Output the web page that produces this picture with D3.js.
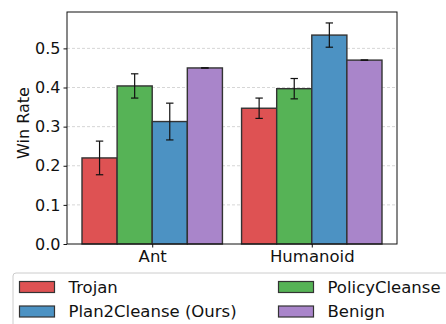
<!DOCTYPE html>
<html>
<head>
<meta charset="utf-8">
<script src="https://cdn.jsdelivr.net/npm/d3@7"></script>
<style>
  html, body { margin: 0; padding: 0; background: #fff; }
  svg { display: block; font-family: "DejaVu Sans", sans-serif; }
</style>
</head>
<body>
<div id="chart"></div>
<script>
// Daten
const categories = ["Ant", "Humanoid"];
const methods = ["Trojan", "PolicyCleanse", "Plan2Cleanse (Ours)", "Benign"];
const colors = ["#de5253", "#56b356", "#4c92c3", "#a985ca"];
const meanValues = [
  [0.220, 0.347],   // Trojan
  [0.404, 0.397],   // PolicyCleanse
  [0.313, 0.534],   // Plan2Cleanse
  [0.450, 0.470]    // Benign
];
const errValues = [
  [0.043, 0.026],
  [0.031, 0.026],
  [0.047, 0.031],
  [0.000, 0.000]
];
const yTicks = [0.0, 0.1, 0.2, 0.3, 0.4, 0.5];
const legendOrder = [[0, 1], [2, 3]]; // Zeilen: [links, rechts]

const W = 446, H = 324;
const BAR_W = 0.22;

const svg = d3.select("#chart").append("svg")
  .attr("width", W).attr("height", H);

const x = d3.scaleLinear().domain([-0.534, 1.534]).range([67, 397]);
const y = d3.scaleLinear().domain([0, 0.593]).range([244, 12]);

// Grid
svg.append("g").selectAll("line")
  .data(yTicks.slice(1))
  .join("line")
  .attr("x1", x.range()[0]).attr("x2", x.range()[1])
  .attr("y1", d => y(d)).attr("y2", d => y(d))
  .attr("stroke", "#cccccc")
  .attr("stroke-width", 0.8)
  .attr("stroke-dasharray", "3,2");

// Balken
const offsets = methods.map((m, i) => (i - 1.5) * BAR_W);
methods.forEach((m, i) => {
  const g = svg.append("g");
  categories.forEach((c, j) => {
    const cx = j + offsets[i];
    const v = meanValues[i][j];
    g.append("rect")
      .attr("x", x(cx - BAR_W / 2))
      .attr("y", y(v))
      .attr("width", x(cx + BAR_W / 2) - x(cx - BAR_W / 2))
      .attr("height", y(0) - y(v))
      .attr("fill", colors[i])
      .attr("stroke", "#333")
      .attr("stroke-width", 1.4);
  });
});

// Fehlerbalken
methods.forEach((m, i) => {
  categories.forEach((c, j) => {
    const cx = x(j + offsets[i]);
    const v = meanValues[i][j], e = errValues[i][j];
    const g = svg.append("g").attr("stroke", "#111").attr("stroke-width", 1.2);
    g.append("line").attr("x1", cx).attr("x2", cx)
      .attr("y1", y(v - e)).attr("y2", y(v + e));
    [v - e, v + e].forEach(t => {
      g.append("line").attr("x1", cx - 3.7).attr("x2", cx + 3.7)
        .attr("y1", y(t)).attr("y2", y(t));
    });
  });
});

// Rahmen
svg.append("rect")
  .attr("x", x.range()[0]).attr("y", y.range()[1])
  .attr("width", x.range()[1] - x.range()[0])
  .attr("height", y.range()[0] - y.range()[1])
  .attr("fill", "none").attr("stroke", "#111").attr("stroke-width", 1);

// Achsen
const yAxis = svg.append("g")
  .attr("transform", `translate(${x.range()[0]},0)`)
  .call(d3.axisLeft(y).tickValues(yTicks).tickFormat(d3.format(".1f")).tickSize(3.5).tickPadding(3));
const xAxis = svg.append("g")
  .attr("transform", `translate(0,${y.range()[0]})`)
  .call(d3.axisBottom(x).tickValues([0, 1]).tickFormat((d, i) => categories[i]).tickSize(3.5).tickPadding(3));
[yAxis, xAxis].forEach(a => {
  a.select(".domain").remove();
  a.selectAll("line").attr("stroke", "#111");
  a.selectAll("text").attr("fill", "#111")
    .style("font-family", "DejaVu Sans").style("font-size", "16px");
});
xAxis.selectAll("text").style("font-size", "16.5px");

svg.append("text")
  .attr("transform", "translate(29,123) rotate(-90)")
  .attr("text-anchor", "middle")
  .attr("fill", "#111")
  .style("font-size", "16px")
  .text("Win Rate");

// Legende
const lg = svg.append("g");
lg.append("rect")
  .attr("x", 13).attr("y", 273)
  .attr("width", 460).attr("height", 80)
  .attr("rx", 3)
  .attr("fill", "#fff").attr("fill-opacity", 0.8)
  .attr("stroke", "#cccccc").attr("stroke-width", 1);
const colX = [19.5, 278.5];
const rowY = [287, 311.5];
legendOrder.forEach((row, r) => {
  row.forEach((mi, c) => {
    lg.append("rect")
      .attr("x", colX[c]).attr("y", rowY[r] - 5.5)
      .attr("width", 35).attr("height", 11)
      .attr("fill", colors[mi]).attr("stroke", "#333").attr("stroke-width", 1.2);
    lg.append("text")
      .attr("x", colX[c] + 49).attr("y", rowY[r])
      .attr("dy", "0.36em")
      .attr("fill", "#111")
      .style("font-size", "16.5px")
      .text(methods[mi]);
  });
});
</script>
</body>
</html>
